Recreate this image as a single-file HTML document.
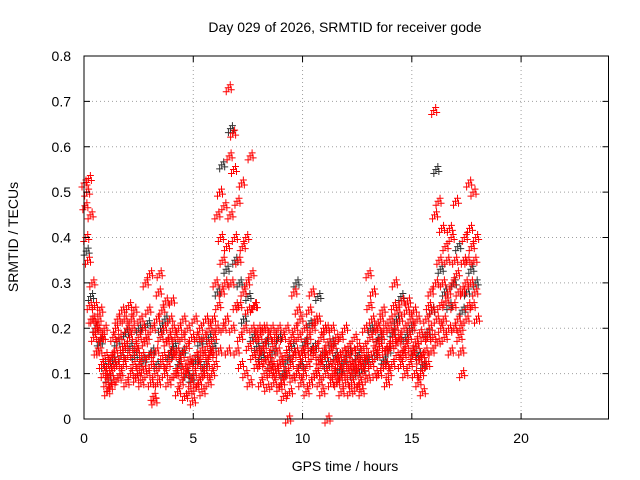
<!DOCTYPE html>
<html><head><meta charset="utf-8"><style>
html,body{margin:0;padding:0;background:#fff}
svg{display:block;font-family:"Liberation Sans",sans-serif}
</style></head><body>
<svg id="chart" width="640" height="480">
<text x="345" y="32" text-anchor="middle" font-size="14">Day 029 of 2026, SRMTID for receiver gode</text>
<text x="18" y="237" text-anchor="middle" font-size="14" transform="rotate(-90 18 237)">SRMTID / TECUs</text>
<text x="345" y="471" text-anchor="middle" font-size="14">GPS time / hours</text>
<g id="grid"></g><g id="marks"></g><g id="axes"></g>
</svg>
<script>
const times=[0.0,0.2,0.4,0.6,0.8,1.0,1.2,1.4,1.6,1.8,2.0,2.2,2.4,2.6,2.8,3.0,3.2,3.4,3.6,3.8,4.0,4.2,4.4,4.6,4.8,5.0,5.2,5.4,5.6,5.8,6.0,6.2,6.4,6.6,6.8,7.0,7.2,7.4,7.6,7.8,8.0,8.2,8.4,8.6,8.8,9.0,9.2,9.4,9.6,9.8,10.0,10.2,10.4,10.6,10.8,11.0,11.2,11.4,11.6,11.8,12.0,12.2,12.4,12.6,12.8,13.0,13.2,13.4,13.6,13.8,14.0,14.2,14.4,14.6,14.8,15.0,15.2,15.4,15.6,15.8,16.0,16.2,16.4,16.6,16.8,17.0,17.2,17.4,17.6,17.8];
const redVals=[[0.52,0.47,0.40,0.50,0.35],[0.53,0.25,0.45,0.22,0.30],[0.22,0.18,0.25,0.20,0.15],[0.20,0.22,0.15,0.24,0.18],[0.12,0.18,0.10,0.20,0.14],[0.08,0.06,0.10,0.12,0.07],[0.10,0.14,0.08,0.18,0.12],[0.15,0.20,0.12,0.22,0.09],[0.18,0.10,0.14,0.24,0.16],[0.12,0.22,0.16,0.08,0.20],[0.14,0.25,0.18,0.10,0.22],[0.20,0.12,0.24,0.16,0.09],[0.15,0.10,0.18,0.12,0.22],[0.08,0.14,0.20,0.11,0.17],[0.30,0.18,0.10,0.24,0.14],[0.32,0.08,0.12,0.20,0.05],[0.04,0.10,0.15,0.22,0.08],[0.28,0.32,0.18,0.12,0.24],[0.14,0.20,0.10,0.26,0.17],[0.12,0.08,0.18,0.22,0.15],[0.26,0.20,0.14,0.10,0.18],[0.10,0.15,0.06,0.20,0.12],[0.08,0.14,0.18,0.22,0.11],[0.05,0.10,0.16,0.20,0.13],[0.06,0.12,0.08,0.18,0.04],[0.10,0.22,0.14,0.07,0.18],[0.12,0.08,0.20,0.15,0.10],[0.06,0.14,0.18,0.10,0.22],[0.12,0.16,0.08,0.20,0.14],[0.15,0.10,0.22,0.18,0.12],[0.30,0.20,0.45,0.25,0.15],[0.50,0.40,0.28,0.35,0.20],[0.47,0.30,0.22,0.38,0.15],[0.73,0.58,0.45,0.30,0.20],[0.63,0.55,0.40,0.25,0.15],[0.48,0.35,0.25,0.18,0.12],[0.52,0.38,0.28,0.20,0.10],[0.40,0.30,0.24,0.16,0.08],[0.58,0.32,0.20,0.14,0.25],[0.25,0.18,0.12,0.15,0.20],[0.18,0.12,0.08,0.15,0.20],[0.16,0.10,0.20,0.13,0.07],[0.14,0.18,0.10,0.12,0.20],[0.12,0.16,0.08,0.18,0.11],[0.10,0.15,0.20,0.07,0.13],[0.12,0.08,0.18,0.05,0.10],[0.14,0.20,0.10,0.0,0.16],[0.06,0.12,0.18,0.09,0.14],[0.28,0.20,0.15,0.10,0.24],[0.18,0.12,0.22,0.08,0.15],[0.14,0.10,0.20,0.16,0.06],[0.12,0.18,0.24,0.08,0.15],[0.28,0.20,0.14,0.10,0.22],[0.16,0.10,0.22,0.13,0.08],[0.12,0.18,0.06,0.15,0.20],[0.14,0.10,0.20,0.0,0.17],[0.12,0.15,0.08,0.20,0.10],[0.16,0.10,0.13,0.18,0.08],[0.12,0.14,0.09,0.18,0.06],[0.10,0.15,0.12,0.20,0.08],[0.14,0.10,0.16,0.12,0.06],[0.12,0.08,0.15,0.11,0.18],[0.10,0.13,0.07,0.16,0.12],[0.08,0.12,0.06,0.14,0.10],[0.16,0.20,0.12,0.14,0.09],[0.32,0.25,0.18,0.12,0.22],[0.28,0.15,0.20,0.10,0.17],[0.14,0.20,0.10,0.16,0.22],[0.18,0.24,0.12,0.20,0.15],[0.12,0.08,0.16,0.10,0.20],[0.22,0.16,0.12,0.18,0.25],[0.30,0.20,0.14,0.24,0.17],[0.18,0.22,0.12,0.26,0.15],[0.14,0.20,0.10,0.16,0.24],[0.26,0.18,0.12,0.22,0.15],[0.20,0.14,0.24,0.10,0.17],[0.16,0.22,0.08,0.13,0.19],[0.10,0.14,0.06,0.18,0.12],[0.15,0.22,0.12,0.18,0.25],[0.20,0.28,0.15,0.24,0.18],[0.68,0.45,0.30,0.22,0.17],[0.48,0.35,0.25,0.20,0.42],[0.30,0.22,0.18,0.38,0.26],[0.35,0.28,0.20,0.42,0.15],[0.40,0.30,0.25,0.20,0.35],[0.48,0.32,0.22,0.28,0.18],[0.20,0.15,0.10,0.28,0.35],[0.40,0.30,0.22,0.35,0.25],[0.52,0.42,0.30,0.38,0.25],[0.50,0.35,0.28,0.40,0.22]];
const blackVals=[0.37,0.27,0.20,0.17,0.12,0.09,0.13,0.17,0.14,0.19,0.16,0.14,0.20,0.13,0.21,0.15,0.12,0.20,0.22,0.14,0.16,0.12,0.15,0.10,0.09,0.13,0.17,0.12,0.18,0.16,0.28,0.56,0.33,0.64,0.35,0.30,0.22,0.27,0.18,0.16,0.14,0.17,0.12,0.15,0.18,0.10,0.13,0.16,0.30,0.12,0.17,0.21,0.16,0.27,0.14,0.12,0.17,0.14,0.11,0.13,0.15,0.10,0.14,0.11,0.13,0.20,0.14,0.18,0.13,0.15,0.19,0.22,0.27,0.18,0.20,0.15,0.14,0.12,0.19,0.24,0.55,0.33,0.28,0.25,0.30,0.38,0.24,0.28,0.33,0.30];
const xTicks=[0,5,10,15,20];
const yTicks=[0,0.1,0.2,0.3,0.4,0.5,0.6,0.7,0.8];
const X0=84,X1=608.5,Y0=419,Y1=56;
const xs=t=>X0+(t/24)*(X1-X0);
const ys=v=>Y0-(v/0.8)*(Y0-Y1);
const NS='http://www.w3.org/2000/svg';
function mk(tag,attrs,parent){const e=document.createElementNS(NS,tag);for(const k in attrs)e.setAttribute(k,attrs[k]);parent.appendChild(e);return e;}
const grid=document.getElementById('grid'),marks=document.getElementById('marks'),axes=document.getElementById('axes');
yTicks.forEach(v=>{
  const y=ys(v);
  if(v>0&&v<0.8){const g=mk('line',{x1:X0,x2:X1,y1:y,y2:y,stroke:'#a0a0a0','stroke-dasharray':'1,3','stroke-width':1},grid);
  
  }
  const t=mk('text',{x:X0-13,y:y+5,'text-anchor':'end','font-size':14},axes);t.textContent=String(v);
  
  
  mk('line',{x1:X0,x2:X0+6,y1:y,y2:y,stroke:'#000'},axes);
  mk('line',{x1:X1,x2:X1-6,y1:y,y2:y,stroke:'#000'},axes);
});
xTicks.forEach(v=>{
  const x=xs(v);
  if(v>0){const g=mk('line',{x1:x,x2:x,y1:Y0,y2:Y1,stroke:'#a0a0a0','stroke-dasharray':'1,3','stroke-width':1},grid);
  
  }
  const t=mk('text',{x:x,y:443,'text-anchor':'middle','font-size':14},axes);t.textContent=String(v);
  
  
  mk('line',{x1:x,x2:x,y1:Y0,y2:Y0-6,stroke:'#000'},axes);
  mk('line',{x1:x,x2:x,y1:Y1,y2:Y1+6,stroke:'#000'},axes);
});
const border=mk('rect',{x:X0,y:Y1,width:X1-X0,height:Y0-Y1,fill:'none',stroke:'#000','stroke-width':1},axes);


// Each value drawn as a small cluster of "+" glyphs (visual density only)
const CL=[[0,0],[2,-3],[-2,4],[3,2]];
function plus(x,y,color){
  let d='';
  CL.forEach(o=>{const cx=x+o[0],cy=y+o[1];d+=`M${cx-3.5},${cy}h7M${cx},${cy-3.5}v7`;});
  return mk('path',{d:d,stroke:color,'stroke-width':1,fill:'none'},marks);
}
times.forEach((t,i)=>{
  const b=plus(xs(t+0.1),ys(blackVals[i]),'#333');
  
  
});
times.forEach((t,i)=>{
  redVals[i].forEach((v,j)=>{
    const p=plus(xs(t+j*0.04),ys(v),'#ff0000');
    
    
  });
});
</script>
</body></html>
